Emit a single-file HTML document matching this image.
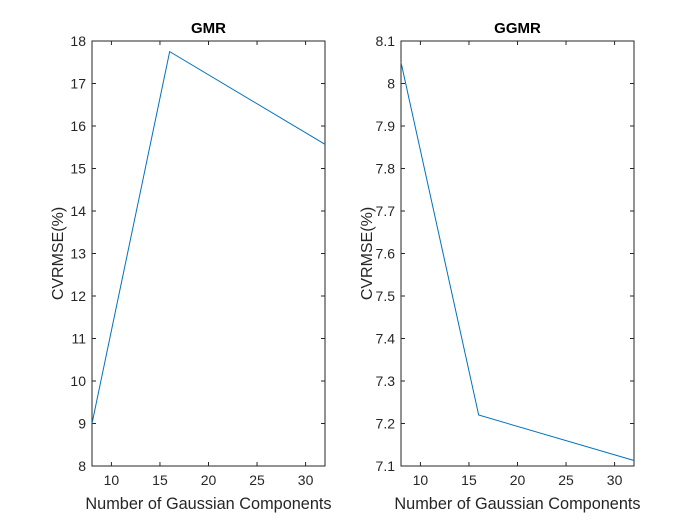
<!DOCTYPE html>
<html><head><meta charset="utf-8"><style>
body{margin:0;background:#fff;}
svg{display:block;font-family:"Liberation Sans",sans-serif;}
</style></head><body>
<svg id="fig" width="700" height="525"></svg>
<script>
const xs=[8,16,32];
const gmrValues=[9.0,17.75,15.57];
const ggmrValues=[8.05,7.22,7.113];
const xTicks=[10,15,20,25,30];
const gmrTicks=[8,9,10,11,12,13,14,15,16,17,18];
const ggmrTicks=[7.1,7.2,7.3,7.4,7.5,7.6,7.7,7.8,7.9,8,8.1];
const svg=document.getElementById('fig');
const NS='http://www.w3.org/2000/svg';
function mk(t,a,p){const e=document.createElementNS(NS,t);for(const k in a)e.setAttribute(k,a[k]);(p||svg).appendChild(e);return e;}
function panel(name,L,R,T,B,ymin,ymax,ticks,vals,title,fmt){
  const g=mk('g',{});
  
  
  const sx=v=>L+(v-8)/(32-8)*(R-L);
  const sy=v=>B-(v-ymin)/(ymax-ymin)*(B-T);
  mk('rect',{x:L,y:T,width:R-L,height:B-T,fill:'#fff',stroke:'#262626','stroke-width':1},g);
  xTicks.forEach(t=>{const x=sx(t);
    mk('line',{x1:x,x2:x,y1:B,y2:B-4,stroke:'#262626'},g);
    mk('line',{x1:x,x2:x,y1:T,y2:T+4,stroke:'#262626'},g);
    const tx=mk('text',{x:x,y:B+19,'text-anchor':'middle','font-size':14,fill:'#262626'},g);tx.textContent=t;
    
    });
  ticks.forEach(t=>{const y=sy(t);
    mk('line',{x1:L,x2:L+4,y1:y,y2:y,stroke:'#262626'},g);
    mk('line',{x1:R,x2:R-4,y1:y,y2:y,stroke:'#262626'},g);
    const tx=mk('text',{x:L-6,y:y+5,'text-anchor':'end','font-size':14,fill:'#262626'},g);tx.textContent=fmt(t);
    
    });
  const pl=mk('polyline',{points:xs.map((x,i)=>sx(x)+','+sy(vals[i])).join(' '),fill:'none',stroke:'#0072BD','stroke-width':1},g);
  
  
  const ti=mk('text',{x:(L+R)/2,y:T-8,'text-anchor':'middle','font-size':15,'font-weight':'bold',fill:'#000'},g);ti.textContent=title;
  
  
  const xl=mk('text',{x:(L+R)/2,y:B+43,'text-anchor':'middle','font-size':16.3,fill:'#262626'},g);xl.textContent='Number of Gaussian Components';
  
  
  const yl=mk('text',{x:0,y:0,'text-anchor':'middle','font-size':16,fill:'#262626',transform:`translate(${L-29},${(T+B)/2}) rotate(-90)`},g);yl.textContent='CVRMSE(%)';
  
  
}
panel('gmr',92,325,41,466,8,18,gmrTicks,gmrValues,'GMR',t=>String(t));
panel('ggmr',401,634,41,466,7.1,8.1,ggmrTicks,ggmrValues,'GGMR',t=>String(+t.toFixed(1)));
</script>
</body></html>
